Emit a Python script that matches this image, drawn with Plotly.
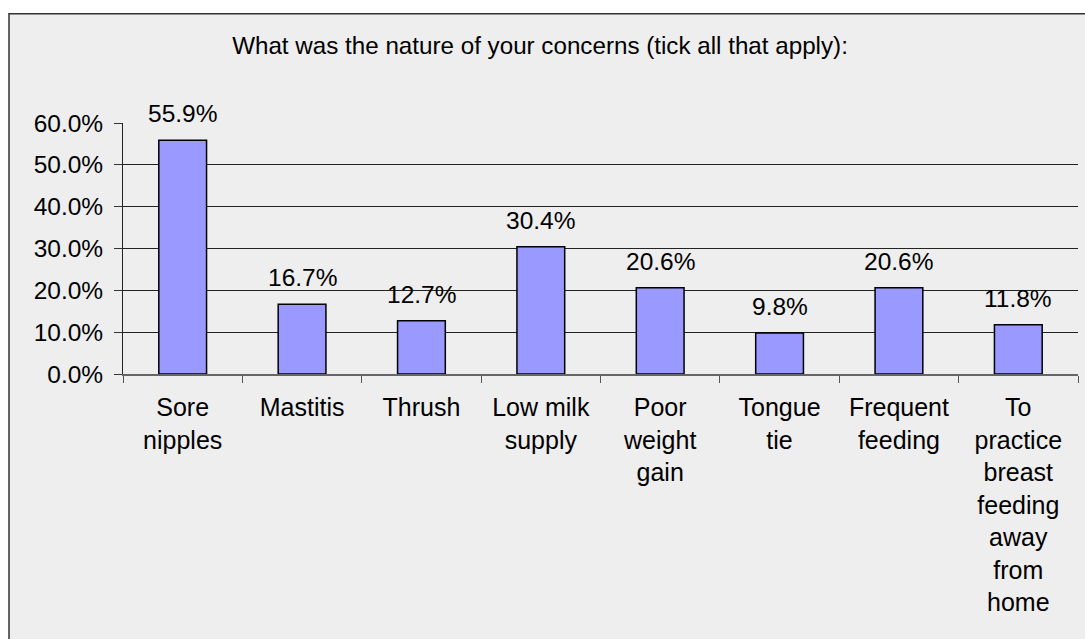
import plotly.graph_objects as go

categories = ["Sore<br>nipples", "Mastitis", "Thrush", "Low milk<br>supply",
              "Poor<br>weight<br>gain", "Tongue<br>tie", "Frequent<br>feeding",
              "To<br>practice<br>breast<br>feeding<br>away<br>from<br>home"]
values = [0.559, 0.167, 0.127, 0.304, 0.206, 0.098, 0.206, 0.118]
labels = ["55.9%", "16.7%", "12.7%", "30.4%", "20.6%", "9.8%", "20.6%", "11.8%"]
y_ticks = [0, 0.1, 0.2, 0.3, 0.4, 0.5, 0.6]
title = "What was the nature of your concerns (tick all that apply):"

W, H = 1085, 639
L, R, T, B = 123, 1078, 122.5, 374
FAM = "Liberation Sans, Arial, sans-serif"
FONT = dict(family=FAM, size=24.5, color="black")
XFONT = dict(family=FAM, size=25, color="black")
TFONT = dict(family=FAM, size=24.2, color="black")

fig = go.Figure()
fig.add_trace(go.Bar(
    x=categories, y=values, width=0.4,
    marker=dict(color="#9999FF", line=dict(color="black", width=1.5)),
    hoverinfo="skip",
))

for c, v, t in zip(categories, values, labels):
    fig.add_annotation(x=c, y=v, text=t, showarrow=False, yanchor="bottom",
                       yshift=11, font=FONT)

pw, ph = R - L, B - T
fig.add_shape(type="rect", xref="paper", yref="paper", layer="below",
              x0=(9 - L) / pw, x1=(1095 - L) / pw,
              y0=(B - 650) / ph, y1=(B - 13) / ph,
              fillcolor="#EEEEEE", line=dict(color="#333333", width=1.5))

fig.update_layout(
    width=W, height=H,
    margin=dict(l=L, r=W - R, t=T, b=H - B, pad=0),
    paper_bgcolor="white", plot_bgcolor="rgba(0,0,0,0)",
    font=FONT, showlegend=False, bargap=0.6,
    title=dict(text=title, x=540 / W, xanchor="center", y=1 - 46 / H,
               yanchor="middle", font=TFONT),
    xaxis=dict(tickson="boundaries", ticks="outside", ticklen=7,
               tickcolor="#555555", showline=True, linecolor="#666666",
               linewidth=2, showgrid=False, tickfont=XFONT, fixedrange=True,
               ticklabelstandoff=10),
    yaxis=dict(range=[0, 0.6], tickvals=y_ticks, tickformat=".1%",
               ticks="outside", ticklen=8, tickcolor="#333333",
               showline=True, linecolor="#222222", linewidth=1,
               showgrid=True, gridcolor="#222222", gridwidth=1,
               zeroline=False, tickfont=FONT, fixedrange=True,
               ticklabelstandoff=6),
)

fig.write_html("out.html")
